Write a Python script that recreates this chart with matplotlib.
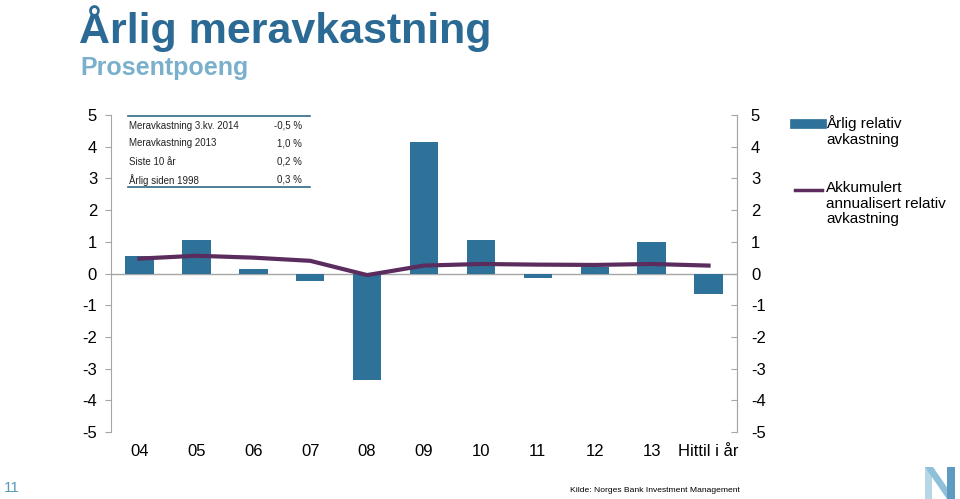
import numpy as np
import matplotlib.pyplot as plt
from matplotlib.patches import Polygon

plt.rcParams['font.family'] = ['Liberation Sans', 'DejaVu Sans']

# data
years = ["04", "05", "06", "07", "08", "09", "10", "11", "12", "13", "Hittil i år"]
annual = [0.54, 1.06, 0.14, -0.24, -3.37, 4.14, 1.06, -0.13, 0.21, 0.99, -0.66]
cumulative = [0.47, 0.56, 0.50, 0.40, -0.05, 0.25, 0.30, 0.28, 0.27, 0.30, 0.25]

table_labels = ["Meravkastning 3.kv. 2014", "Meravkastning 2013", "Siste 10 år", "Årlig siden 1998"]
table_values = ["-0,5 %", "1,0 %", "0,2 %", "0,3 %"]

bar_color = "#2e7299"
line_color = "#5b2c5e"
axis_gray = "#a6a6a6"
W, H = 960, 499

fig = plt.figure(figsize=(9.6, 4.99), dpi=100)
ax = fig.add_axes([111 / W, 1 - 432 / H, (737 - 111) / W, (432 - 115) / H])

x = np.arange(len(years))
ax.bar(x, annual, width=0.5, color=bar_color, zorder=2)
ax.plot(x, cumulative, color=line_color, lw=3, zorder=3)
ax.axhline(0, color=axis_gray, lw=1, zorder=1)

ax.set_xlim(-0.5, len(years) - 0.5)
ax.set_ylim(-5, 5)
ax.set_yticks(range(-5, 6))
ax.set_yticklabels([str(v) for v in range(-5, 6)], fontsize=12)
ax.tick_params(axis='y', direction='out', length=4, color=axis_gray, pad=6)
ax.set_xticks(x)
ax.set_xticklabels(years, fontsize=12)
ax.tick_params(axis='x', length=0, pad=9)

for s in ['top', 'bottom']:
    ax.spines[s].set_visible(False)
for s in ['left', 'right']:
    ax.spines[s].set_color(axis_gray)

ax2 = ax.twinx()
ax2.set_ylim(-5, 5)
ax2.set_yticks(range(-5, 6))
ax2.set_yticklabels([str(v) for v in range(-5, 6)], fontsize=12)
ax2.tick_params(axis='y', direction='in', length=4, color=axis_gray, pad=10)
for s in ['top', 'bottom', 'left']:
    ax2.spines[s].set_visible(False)
ax2.spines['right'].set_color(axis_gray)

# legend
def fx(px):
    return px / W

def fy(py):
    return 1 - py / H

fig.add_artist(plt.Line2D([fx(795), fx(822)], [fy(124), fy(124)], color=bar_color, lw=7))
fig.text(fx(826), fy(115), "Årlig relativ\navkastning", fontsize=11, va='top', ha='left',
         linespacing=1.15)
fig.add_artist(plt.Line2D([fx(795), fx(822)], [fy(190), fy(190)], color=line_color, lw=2.5))
fig.text(fx(826), fy(181), "Akkumulert\nannualisert relativ\navkastning", fontsize=11,
         va='top', ha='left', linespacing=1.15)

# title
fig.text(fx(79), fy(29), "Årlig meravkastning", fontsize=31, fontweight='bold',
         color="#2a6a94", va='center', ha='left')
fig.text(fx(80), fy(68), "Prosentpoeng", fontsize=18, fontweight='bold',
         color="#7ab0cc", va='center', ha='left')

# inset table
tcol = "#2f6a80"
fig.add_artist(plt.Line2D([fx(128), fx(310)], [fy(116), fy(116)], color=tcol, lw=1.2))
fig.add_artist(plt.Line2D([fx(128), fx(310)], [fy(187), fy(187)], color=tcol, lw=1.2))
row_y = [126, 143, 162, 180]
for lab, val, ry in zip(table_labels, table_values, row_y):
    fig.text(fx(129), fy(ry), lab, fontsize=7, va='center', ha='left', color="#222222")
    fig.text(fx(302), fy(ry), val, fontsize=7, va='center', ha='right', color="#222222")

# footer
fig.text(fx(4), fy(488), "11", fontsize=11, color="#5a9ab8", va='center', ha='left')
fig.text(fx(570), fy(491), "Kilde: Norges Bank Investment Management", fontsize=6.1,
         va='center', ha='left')

# logo
logo = [
    ([(925, 467), (932, 467), (932, 499), (925, 499)], "#b7d6e6"),
    ([(925, 467), (933, 467), (955, 499), (947, 499)], "#8fc0da"),
    ([(947, 467), (955, 467), (955, 499), (947, 499)], "#5d9cc0"),
]
for pts, c in logo:
    fig.add_artist(Polygon([(fx(a), fy(b)) for a, b in pts], closed=True,
                           transform=fig.transFigure, color=c, lw=0))

fig.savefig("out.png", dpi=100)
